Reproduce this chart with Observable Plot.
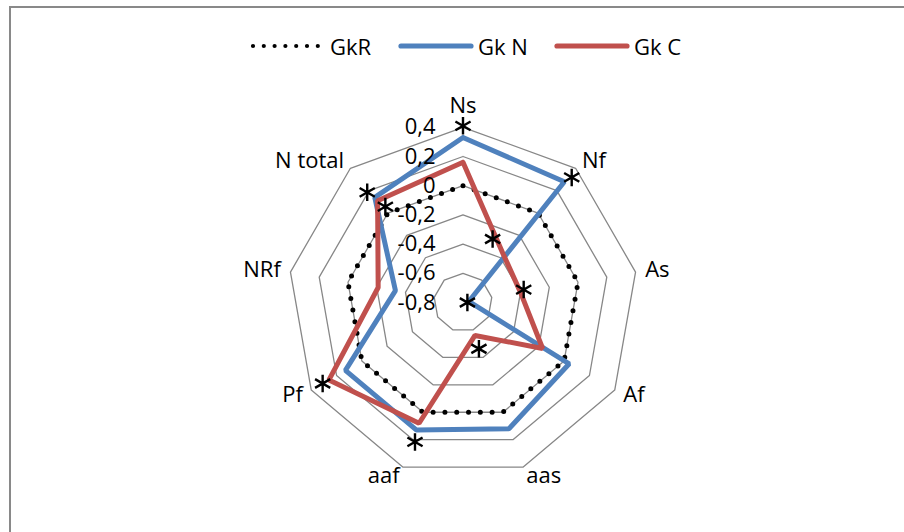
<!DOCTYPE html>
<html><head><meta charset="utf-8">
<script src="https://cdn.jsdelivr.net/npm/d3@7"></script>
<script src="https://cdn.jsdelivr.net/npm/@observablehq/plot@0.6"></script>
<style>
html,body{margin:0;padding:0;background:#fff;width:904px;height:532px;overflow:hidden;font-family:"Open Sans",sans-serif;}
#frame{position:absolute;left:9px;top:6px;width:1000px;height:600px;border-left:2px solid #898989;border-top:2px solid #898989;box-sizing:border-box;}
#legend{position:absolute;left:0;top:0;width:904px;height:70px;}
.item{position:absolute;top:33px;height:26px;display:flex;align-items:center;font-size:22px;color:#000;}
.item span{margin-left:4px;line-height:26px;}
#chart{position:absolute;left:0;top:70px;}
</style></head><body>
<div id="frame"></div>
<div id="legend"></div>
<div id="chart"></div>
<script>
// ---- data ----
const categories = ["Ns","Nf","As","Af","aas","aaf","Pf","NRf","N total"];
const seriesNames = ["GkR","Gk N","Gk C"];
const gkR = [0, 0, 0, 0, 0, 0, 0, 0, 0];
const gkN = [0.33, 0.28, -0.76, 0.04, 0.12, 0.13, 0.13, -0.33, 0.14];
const gkC = [0.16, -0.37, -0.40, -0.17, -0.56, 0.08, 0.26, -0.21, 0.11];
const tickValues = [-0.8, -0.6, -0.4, -0.2, 0, 0.2, 0.4];
const tickLabels = ["-0,8", "-0,6", "-0,4", "-0,2", "0", "0,2", "0,4"];
// significance asterisks (polar position: angle in degrees, value on radial scale)
const starAngles = [0, 41, 319, 321, 25, 78, 90, 161, 240, 199];
const starValues = [0.41, 0.335, 0.20, 0.045, -0.32, -0.375, -0.77, -0.465, 0.31, 0.21];

// ---- styles ----
const colors = ["#000000", "#4F81BD", "#C0504D"];
const W = 904, H = 462, cx = 462.5, cy = 232, k = 146;
const rmin = tickValues[0];
const n = categories.length;
const ang = i => i * 2 * Math.PI / n;

function polar(a, u) { return {x: u * Math.sin(a), y: u * Math.cos(a)}; }

// ring grid
const rings = [];
tickValues.slice(1).forEach(t => {
  for (let i = 0; i <= n; i++) rings.push({level: t, ...polar(ang(i % n), t - rmin)});
});

function seriesPts(vals, name) {
  const out = [];
  for (let i = 0; i <= n; i++) out.push({series: name, ...polar(ang(i % n), vals[i % n] - rmin)});
  return out;
}
const ptsR = seriesPts(gkR, seriesNames[0]);
const ptsN = seriesPts(gkN, seriesNames[1]);
const ptsC = seriesPts(gkC, seriesNames[2]);

const labels = categories.map((c, i) => {
  const a = ang(i), s = Math.sin(a);
  const side = s > 0.01 ? "start" : s < -0.01 ? "end" : "middle";
  return {label: c, side, ...polar(a, (side === "middle" ? 190 : 185) / k)};
});

const stars = starAngles.map((d, i) => polar(d * Math.PI / 180, starValues[i] - rmin));
const ticks = tickValues.map((v, i) => ({label: tickLabels[i], x: 0, y: v - rmin}));

const fs = 22;
const plot = Plot.plot({
  width: W, height: H,
  marginTop: 0, marginBottom: 0, marginLeft: 0, marginRight: 0,
  x: {domain: [-cx / k, (W - cx) / k], range: [0, W], axis: null},
  y: {domain: [-(H - cy) / k, cy / k], range: [H, 0], axis: null},
  style: {fontFamily: "Open Sans, sans-serif", fontSize: fs + "px", background: "transparent", color: "#000"},
  marks: [
    Plot.line(rings, {x: "x", y: "y", z: "level", stroke: "#878787", strokeWidth: 1.3}),
    Plot.line(ptsR, {x: "x", y: "y", stroke: colors[0], strokeWidth: 5, strokeDasharray: "0 11.8", strokeLinecap: "round"}),
    Plot.line(ptsN, {x: "x", y: "y", stroke: colors[1], strokeWidth: 5, strokeLinejoin: "miter"}),
    Plot.line(ptsC, {x: "x", y: "y", stroke: colors[2], strokeWidth: 5, strokeLinejoin: "miter"}),
    Plot.dot(stars, {x: "x", y: "y", symbol: "asterisk", r: 8.3, stroke: "#000", strokeWidth: 2.4}),
    Plot.text(ticks, {x: "x", y: "y", text: "label", dx: -27.5, textAnchor: "end", fill: "#000", fontSize: fs}),
    Plot.text(labels.filter(d => d.side === "start"), {x: "x", y: "y", text: "label", textAnchor: "start", fill: "#000", fontSize: fs}),
    Plot.text(labels.filter(d => d.side === "end"), {x: "x", y: "y", text: "label", textAnchor: "end", fill: "#000", fontSize: fs}),
    Plot.text(labels.filter(d => d.side === "middle"), {x: "x", y: "y", text: "label", textAnchor: "middle", lineAnchor: "bottom", fill: "#000", fontSize: fs})
  ]
});
document.getElementById("chart").appendChild(plot);

// ---- legend ----
const legendLeft = [250, 398, 554];
const legend = d3.select("#legend");
seriesNames.forEach((name, i) => {
  const item = legend.append("div").attr("class", "item").style("left", legendLeft[i] + "px");
  const svg = item.append("svg").attr("width", 76).attr("height", 20);
  const line = svg.append("line").attr("x1", 3).attr("x2", i === 0 ? 70 : 73).attr("y1", 10).attr("y2", 10)
    .attr("stroke", colors[i]).attr("stroke-linecap", "round");
  if (i === 0) line.attr("stroke-width", 4.2).attr("stroke-dasharray", "0 10.8");
  else line.attr("stroke-width", 5.2);
  item.append("span").text(name);
});
</script>
</body></html>
